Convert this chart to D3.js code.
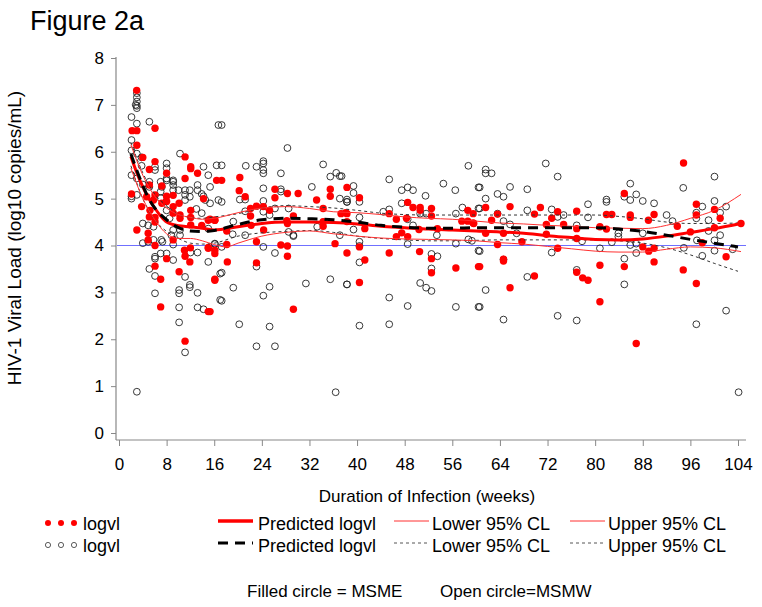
<!DOCTYPE html>
<html><head><meta charset="utf-8">
<script src="https://cdn.jsdelivr.net/npm/d3@7"></script>
<style>body{margin:0;background:#fff}svg{display:block;font-family:"Liberation Sans",Arial,sans-serif}</style>
</head><body><svg id="c" width="762" height="607"></svg>
<script>
// ---------- data ----------
const xTicks = [0,8,16,24,32,40,48,56,64,72,80,88,96,104];
const yTicks = [0,1,2,3,4,5,6,7,8];

// MSME (filled red) observed logvl: [week, log10 VL]
const msmePoints = [
[2.97,7.31],[2.2,6.45],[3.0,6.45],[6.05,6.5],[3.0,6.14],[4.0,5.88],[6.05,5.79],[5.1,5.62],[2.1,5.1],[3.8,4.83],
[3.0,4.33],[5.1,5.29],[4.65,5.04],[5.8,4.97],[6.05,5.08],[5.2,4.75],[5.1,4.61],[4.9,4.26],[4.9,4.12],[6.05,4.6],
[6.05,4.5],[7.2,4.9],[6.05,4.0],[8.0,5.54],[7.2,5.27],[8.0,5.05],[8.0,4.94],[9.1,5.07],[9.1,4.83],[9.1,4.69],
[9.1,4.12],[10.1,4.9],[10.25,4.65],[10.25,4.58],[11.1,5.89],[11.1,5.43],[12.05,5.68],[12.05,5.64],[12.05,4.75],[12.05,4.6],
[12.05,4.44],[11.0,3.9],[13.2,5.54],[14.2,5.0],[15.0,4.54],[16.1,4.54],[13.9,4.43],[15.0,3.94],[16.4,5.39],
[8.0,3.72],[6.05,3.56],[7.0,3.28],[7.0,2.69],[10.1,3.44],[11.1,3.77],[11.9,3.65],[11.1,1.96],[15.0,2.59],[16.1,3.28],
[12.0,3.95],[15.0,3.96],
[17.25,5.39],[20.3,5.45],[21.2,5.04],[20.2,5.17],[26.2,5.2],[26.2,5.02],[28.3,5.11],[30.1,5.11],[33.2,4.97],[35.5,5.2],
[35.5,5.05],[38.3,5.24],[22.1,4.79],[23.1,4.84],[24.25,4.83],[25.3,4.75],[28.2,4.53],[29.3,4.63],[34.3,4.79],[37.3,4.68],
[38.3,4.68],[15.3,4.56],[16.1,4.54],[18.1,4.31],[22.1,4.63],[22.2,4.43],[24.3,4.33],[28.3,4.47],[34.3,4.51],[34.3,4.41],
[16.1,3.9],[16.1,3.83],[18.1,4.02],[23.1,4.08],[27.2,4.01],[28.3,3.99],[28.3,3.77],[36.3,4.04],[38.3,3.84],[18.2,3.65],
[23.1,3.63],[16.1,3.26],[15.3,2.59],[29.3,2.64],
[40.4,5.02],[38.1,4.7],[38.3,4.51],[41.3,4.36],[48.5,4.92],[49.4,4.81],[50.6,4.81],[50.6,4.75],[52.5,4.79],[52.5,4.63],
[45.4,4.68],[46.6,4.56],[48.3,4.58],[47.5,4.27],[46.6,4.19],[48.5,4.19],[50.4,4.34],[53.5,4.36],[58.6,4.75],[57.6,4.52],
[58.6,4.52],[59.5,4.48],[59.5,4.68],[40.4,3.97],[45.4,3.84],[50.5,3.87],[52.5,3.72],[52.5,3.42],[41.3,3.69],[56.6,3.52],
[60.4,3.55],[40.4,3.21],
[61.6,4.81],[65.7,4.83],[70.8,4.81],[76.9,4.73],[81.9,4.66],[59.6,4.47],[63.6,4.67],[62.6,4.54],[69.8,4.67],[72.7,4.58],
[73.7,4.72],[71.8,4.45],[74.7,4.45],[80.8,4.4],[81.9,4.35],[61.6,4.26],[64.6,4.26],[71.8,4.24],[76.9,4.36],[76.9,4.15],
[63.6,4.02],[67.7,4.08],[73.7,3.94],[64.6,3.71],[64.6,3.67],[60.6,3.55],[69.8,3.35],[80.8,3.58],[76.9,3.43],[77.9,3.31],
[78.8,3.26],[65.7,3.1],[80.8,2.8],
[94.85,5.76],[84.9,5.11],[82.8,4.66],[85.9,4.65],[85.9,4.6],[89.9,4.66],[88.95,4.54],[97.0,4.88],[97.0,4.65],[100.05,4.77],
[101.0,4.58],[93.8,4.41],[96.0,4.29],[100.05,4.38],[104.5,4.47],[88.0,3.97],[89.0,3.88],[89.9,3.94],[98.0,4.06],[102.0,3.76],
[84.9,3.55],[89.9,3.65],[94.8,3.48],[97.0,3.19],[86.9,1.91]
];

// MSMW (open circles) observed logvl: [week, log10 VL]
const msmwPoints = [
[3.0,7.25],[3.0,7.16],[3.0,7.07],[3.0,6.98],[2.8,7.0],[3.0,6.93],[2.1,6.74],[3.0,6.6],[5.1,6.64],[2.1,6.25],
[2.1,6.03],[3.0,5.96],[3.8,5.88],[3.8,5.7],[2.1,5.5],[3.0,5.43],[2.1,5.05],[2.1,5.0],[3.0,5.08],[4.0,5.3],
[6.05,5.68],[6.05,5.61],[5.1,5.36],[5.1,5.25],[7.0,5.36],[7.2,5.25],[7.0,5.15],[7.0,5.01],[4.0,4.47],[4.9,4.43],
[5.8,4.4],[4.0,4.05],[4.9,4.08],[5.8,4.12],[7.1,4.12],[7.3,4.08],[8.0,5.75],[8.0,5.65],[8.0,5.43],[8.0,5.39],
[9.1,5.39],[9.1,5.36],[9.1,5.29],[10.25,5.96],[9.1,5.18],[10.0,5.18],[8.0,4.75],[8.5,4.58],[9.1,4.33],[8.8,4.22],
[9.1,4.02],[10.25,4.33],[10.25,4.22],[11.1,5.18],[11.9,5.18],[11.1,5.08],[11.1,4.97],[11.9,5.04],[13.2,5.29],[13.2,5.18],
[13.9,5.1],[14.2,5.05],[14.5,4.97],[14.2,5.68],[15.0,5.5],[15.3,5.25],[15.3,4.9],[13.0,4.78],[13.9,4.69],[15.0,4.36],
[16.1,4.04],[16.7,6.57],[16.4,5.71],[16.7,4.97],[12.0,3.85],[13.2,3.85],
[6.05,3.76],[6.05,3.72],[5.1,3.5],[6.05,3.35],[6.05,2.98],[7.0,3.83],[8.0,3.83],[9.1,3.69],[10.1,3.05],[10.1,2.98],
[10.1,2.68],[10.1,2.36],[11.1,3.33],[11.1,1.72],[11.9,3.16],[11.9,3.11],[13.2,2.99],[13.2,2.68],[14.2,2.64],[15.0,3.65],
[17.0,3.4],[17.0,2.84],[3.0,0.88],
[17.25,6.57],[28.3,6.08],[17.25,5.71],[21.3,5.7],[23.1,5.68],[24.25,5.8],[24.25,5.75],[24.25,5.61],[24.25,5.54],[27.2,5.54],
[34.3,5.73],[36.5,5.55],[35.5,5.47],[37.4,5.48],[24.25,5.22],[32.4,5.25],[20.3,4.98],[21.2,4.98],[17.25,4.93],[24.25,4.95],
[27.2,5.2],[27.2,5.15],[38.3,4.98],[38.3,4.93],[19.2,4.51],[21.2,4.73],[24.25,4.72],[25.3,4.65],[26.2,4.79],[28.5,4.79],
[19.1,4.24],[21.2,4.22],[16.1,4.03],[17.25,3.97],[28.5,4.29],[29.3,4.22],[29.3,4.2],[33.3,4.4],[26.2,3.84],[24.25,3.97],
[23.1,3.55],[17.25,3.42],[19.2,3.1],[25.3,3.12],[24.25,2.93],[31.4,3.19],[35.5,3.28],[38.3,3.17],[17.25,2.82],[20.2,2.32],
[25.3,2.27],[23.1,1.85],[26.2,1.85],[36.4,0.87],
[58.7,5.7],[45.4,5.41],[54.5,5.32],[37.1,5.48],[39.4,5.27],[39.4,5.12],[47.5,5.18],[48.5,5.24],[49.4,5.18],[51.5,5.06],
[56.5,5.18],[60.4,5.24],[37.1,5.0],[38.3,4.93],[40.4,4.93],[45.4,4.77],[44.4,4.72],[47.5,4.9],[50.6,4.68],[51.6,4.68],
[56.6,4.68],[57.7,4.81],[60.4,4.79],[40.4,4.6],[39.4,4.34],[48.5,4.56],[49.4,4.43],[53.4,4.22],[37.1,4.22],[48.5,4.03],
[56.6,4.04],[58.7,4.13],[60.4,3.89],[40.4,4.08],[40.4,3.99],[40.4,3.64],[52.5,3.82],[53.5,3.77],[52.5,3.51],[38.3,3.17],
[50.6,3.2],[51.6,3.1],[52.5,3.03],[45.4,2.89],[48.5,2.71],[56.6,2.69],[60.4,2.69],[40.4,2.29],[45.4,2.32],
[71.7,5.75],[61.6,5.62],[61.6,5.54],[62.6,5.54],[73.7,5.47],[60.6,5.24],[65.7,5.25],[68.6,5.2],[61.6,5.0],[63.6,5.1],
[64.6,5.04],[60.6,4.79],[68.6,4.75],[72.7,4.77],[73.7,4.61],[74.7,4.65],[78.8,4.88],[78.8,4.6],[81.9,4.98],[81.9,4.93],
[63.6,4.68],[64.6,4.52],[65.7,4.45],[66.8,4.26],[76.9,4.43],[77.8,4.09],[59.3,4.1],[60.6,3.88],[72.7,3.85],[80.8,3.94],
[64.6,3.7],[68.6,3.33],[76.9,3.48],[61.6,3.05],[60.6,2.69],[64.6,2.42],[73.7,2.5],[76.9,2.4],
[100.05,5.47],[94.8,5.23],[85.9,5.32],[84.9,5.04],[86.9,5.09],[85.9,4.97],[88.0,4.95],[89.9,4.9],[100.05,4.95],[102.0,4.83],
[98.0,4.83],[92.0,4.65],[93.0,4.52],[97.0,4.7],[97.0,4.58],[101.0,4.7],[99.05,4.54],[83.9,4.26],[83.9,4.19],[82.8,4.07],
[85.9,4.01],[86.9,4.04],[86.9,3.84],[88.0,4.26],[94.9,3.95],[97.1,4.11],[99.05,4.31],[101.0,4.22],[100.05,4.11],[100.05,3.89],
[103.1,3.92],[84.9,3.72],[98.0,3.78],[84.9,3.17],[102.0,2.61],[97.0,2.32],[104.1,0.87]
];

// Fitted curves: [week, predicted logvl]
const predMSME = [[2,5.9],[3,5.55],[4,5.25],[5,5.0],[6,4.8],[7,4.63],[8,4.5],[10,4.42],[12,4.4],[14,4.37],[16,4.33],[20,4.4],[24,4.47],[28,4.5],[32,4.5],[36,4.49],[40,4.46],[44,4.41],[48,4.38],[52,4.35],[56,4.33],[60,4.31],[64,4.29],[68,4.26],[72,4.21],[76,4.17],[80,4.13],[84,4.12],[88,4.14],[92,4.2],[96,4.28],[100,4.36],[104.5,4.47]];
const lowerMSME = [[2,5.65],[4,5.0],[6,4.55],[8,4.25],[10,4.15],[12,4.15],[14,4.1],[16,4.02],[18,3.97],[20,4.05],[24,4.2],[28,4.28],[32,4.31],[36,4.25],[40,4.2],[44,4.16],[48,4.14],[52,4.13],[56,4.12],[60,4.1],[64,4.06],[68,4.03],[72,3.98],[76,3.93],[80,3.88],[84,3.86],[88,3.86],[92,3.92],[96,3.97],[100,3.95],[104.5,3.87]];
const upperMSME = [[2,6.15],[4,5.5],[6,5.05],[8,4.8],[10,4.66],[12,4.6],[14,4.56],[16,4.58],[20,4.7],[24,4.8],[28,4.83],[32,4.79],[36,4.72],[40,4.7],[44,4.66],[48,4.61],[52,4.58],[56,4.56],[60,4.52],[64,4.48],[68,4.46],[72,4.43],[76,4.41],[80,4.38],[84,4.37],[88,4.36],[92,4.43],[96,4.58],[100,4.75],[104.5,5.09]];
const predMSMW = [[2,5.95],[3,5.6],[4,5.28],[5,5.0],[6,4.8],[7,4.66],[8,4.55],[10,4.38],[12,4.31],[14,4.3],[16,4.32],[20,4.45],[24,4.55],[28,4.58],[32,4.57],[36,4.55],[40,4.5],[44,4.43],[48,4.39],[52,4.37],[56,4.37],[60,4.38],[64,4.38],[68,4.38],[72,4.38],[76,4.38],[80,4.38],[84,4.35],[88,4.3],[92,4.22],[96,4.13],[100,4.05],[104,3.97]];
const lowerMSMW = [[2,5.7],[4,5.0],[6,4.55],[8,4.3],[10,4.15],[12,4.05],[14,4.03],[16,4.05],[20,4.2],[24,4.27],[28,4.3],[32,4.32],[36,4.28],[40,4.2],[44,4.15],[48,4.12],[52,4.1],[56,4.1],[60,4.11],[64,4.12],[68,4.12],[72,4.12],[76,4.12],[80,4.12],[84,4.1],[88,4.05],[92,3.95],[96,3.8],[100,3.62],[104,3.45]];
const upperMSMW = [[2,6.2],[4,5.55],[6,5.1],[8,4.85],[10,4.66],[12,4.6],[14,4.58],[16,4.61],[20,4.68],[24,4.8],[28,4.85],[32,4.83],[36,4.8],[40,4.75],[44,4.69],[48,4.66],[52,4.65],[56,4.65],[60,4.65],[64,4.65],[68,4.65],[72,4.65],[76,4.65],[80,4.65],[84,4.62],[88,4.57],[92,4.5],[96,4.47],[100,4.47],[104,4.48]];
const refLine = 4;

// ---------- drawing ----------
const svg = d3.select("#c");
const x = d3.scaleLinear().domain([0,104]).range([119,738]);
const y = d3.scaleLinear().domain([0,8]).range([433,58]);
const axisColor = "#888";

svg.append("text").attr("x",30).attr("y",30).attr("font-size",27).text("Figure 2a");

// y axis
const ya = svg.append("g").attr("transform","translate(116,0)")
  .call(d3.axisLeft(y).tickValues(yTicks).tickSize(5).tickSizeOuter(0).tickPadding(7));
ya.select(".domain").remove();
ya.selectAll("line").attr("stroke",axisColor);
ya.selectAll("text").attr("font-size",17).attr("font-family","Liberation Sans, Arial, sans-serif").attr("fill","#000");
svg.append("line").attr("x1",116).attr("x2",116).attr("y1",57).attr("y2",440).attr("stroke",axisColor).attr("stroke-width",1.2);

// x axis
const xa = svg.append("g").attr("transform","translate(0,440)")
  .call(d3.axisBottom(x).tickValues(xTicks).tickSize(6).tickSizeOuter(0).tickPadding(12));
xa.select(".domain").remove();
xa.selectAll("line").attr("stroke",axisColor);
xa.selectAll("text").attr("font-size",17).attr("font-family","Liberation Sans, Arial, sans-serif").attr("fill","#000");
svg.append("line").attr("x1",116).attr("x2",746).attr("y1",440).attr("y2",440).attr("stroke",axisColor).attr("stroke-width",1.2);

svg.append("text").attr("x",427).attr("y",502).attr("text-anchor","middle").attr("font-size",17)
  .text("Duration of Infection (weeks)");
svg.append("text").attr("transform","translate(21,238) rotate(-90)").attr("text-anchor","middle").attr("font-size",19)
  .text("HIV-1 Viral Load (log10 copies/mL)");

// reference line
svg.append("line").attr("x1",117).attr("x2",746).attr("y1",y(refLine)).attr("y2",y(refLine))
  .attr("stroke","#7070ff").attr("stroke-width",1);

// points
const g = svg.append("g");
g.selectAll(".o").data(msmwPoints).join("circle").attr("class","o")
  .attr("cx",d=>x(d[0])).attr("cy",d=>y(d[1])).attr("r",3.4)
  .attr("fill","none").attr("stroke","#222").attr("stroke-width",0.9);
g.selectAll(".f").data(msmePoints).join("circle").attr("class","f")
  .attr("cx",d=>x(d[0])).attr("cy",d=>y(d[1])).attr("r",3.7)
  .attr("fill","#ff0000");

// curves
const line = d3.line().x(d=>x(d[0])).y(d=>y(d[1])).curve(d3.curveMonotoneX);
function path(data, color, width, dash){
  svg.append("path").attr("d",line(data)).attr("fill","none").attr("stroke",color)
    .attr("stroke-width",width).attr("stroke-dasharray",dash||null);
}
path(lowerMSMW,"#333",1,"3,3");
path(upperMSMW,"#333",1,"3,3");
path(lowerMSME,"#ff3030",1);
path(upperMSME,"#ff3030",1);
path(predMSME,"#ff0000",3);
path(predMSMW,"#000",3,"10,7");

// legend
const L = svg.append("g").attr("font-size",18);
[48,61,74].forEach(cx=>L.append("circle").attr("cx",cx).attr("cy",523).attr("r",3).attr("fill","#ff0000"));
[48,61,74].forEach(cx=>L.append("circle").attr("cx",cx).attr("cy",545).attr("r",2.6).attr("fill","none").attr("stroke","#333").attr("stroke-width",0.8));
L.append("text").attr("x",83).attr("y",530).text("logvl");
L.append("text").attr("x",83).attr("y",552).text("logvl");
function legLine(x1,yy,color,w,dash){L.append("line").attr("x1",x1).attr("x2",x1+35).attr("y1",yy).attr("y2",yy)
  .attr("stroke",color).attr("stroke-width",w).attr("stroke-dasharray",dash||null);}
legLine(218,521,"#ff0000",3.5); legLine(218,543,"#000",3,"10,7");
L.append("text").attr("x",258).attr("y",530).text("Predicted logvl");
L.append("text").attr("x",258).attr("y",552).text("Predicted logvl");
legLine(394,521,"#ff3030",1); legLine(394,543,"#555",1,"3,3");
L.append("text").attr("x",432).attr("y",530).text("Lower 95% CL");
L.append("text").attr("x",432).attr("y",552).text("Lower 95% CL");
legLine(570,521,"#ff3030",1); legLine(570,543,"#555",1,"3,3");
L.append("text").attr("x",608).attr("y",530).text("Upper 95% CL");
L.append("text").attr("x",608).attr("y",552).text("Upper 95% CL");

svg.append("text").attr("x",247).attr("y",597).attr("font-size",17).text("Filled circle = MSME");
svg.append("text").attr("x",440).attr("y",597).attr("font-size",17).text("Open circle=MSMW");
</script></body></html>
